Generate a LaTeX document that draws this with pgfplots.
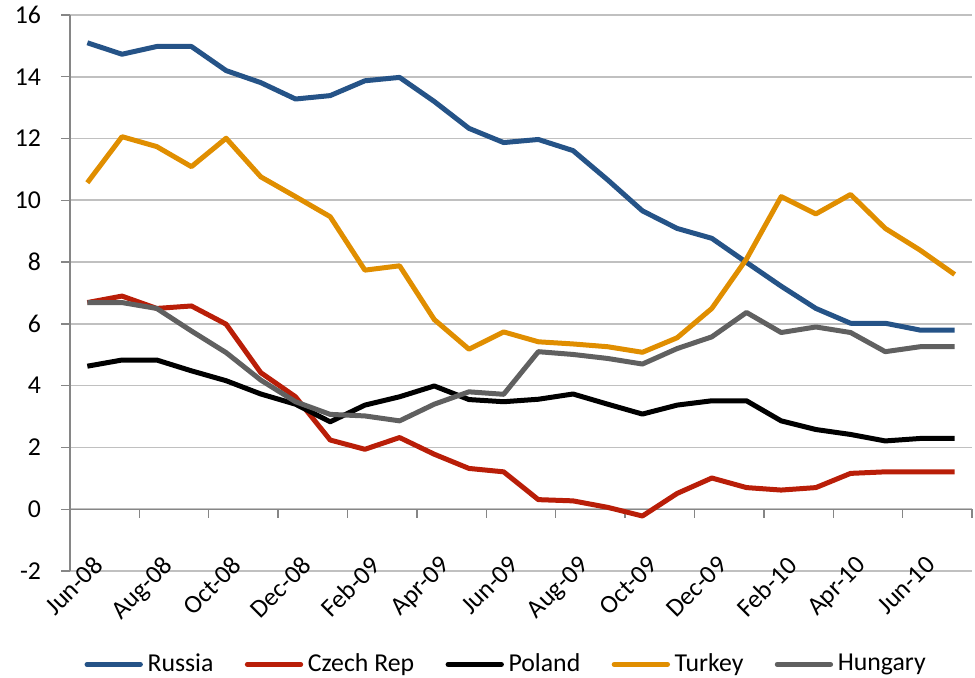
\documentclass[border=0pt]{standalone}
\usepackage{pgfplots}
\pgfplotsset{compat=1.18}
\usepackage{pgfplotstable}
\usepackage{fontspec}
\setmainfont{Carlito}

\definecolor{russia}{RGB}{37,83,135}
\definecolor{czech}{RGB}{185,30,8}
\definecolor{turkey}{RGB}{224,142,0}
\definecolor{hungary}{RGB}{96,96,96}
\definecolor{gridc}{RGB}{192,192,192}
\definecolor{axisc}{RGB}{134,134,134}

% monthly, Jun-08 (0) .. Jul-10 (25)
\pgfplotstableread{
m  russia czech poland turkey hungary
0  15.10  6.69  4.63  10.57  6.69
1  14.73  6.90  4.83  12.06  6.69
2  14.98  6.50  4.83  11.74  6.50
3  14.98  6.58  4.48  11.09  5.77
4  14.20  5.99  4.16  12.01  5.07
5  13.81  4.42  3.73  10.76  4.18
6  13.28  3.64  3.40  10.12  3.48
7  13.39  2.24  2.83   9.47  3.07
8  13.87  1.94  3.37   7.74  3.02
9  13.98  2.32  3.64   7.88  2.86
10 13.20  1.78  3.99   6.14  3.40
11 12.33  1.32  3.55   5.18  3.80
12 11.87  1.21  3.48   5.74  3.72
13 11.97  0.31  3.56   5.42  5.10
14 11.61  0.27  3.73   5.35  5.01
15 10.66  0.06  3.40   5.26  4.88
16  9.66 -0.22  3.08   5.08  4.70
17  9.09  0.51  3.37   5.55  5.20
18  8.77  1.01  3.51   6.50  5.58
19  7.99  0.70  3.51   8.10  6.37
20  7.22  0.62  2.86  10.12  5.72
21  6.50  0.70  2.58   9.56  5.90
22  6.02  1.16  2.42  10.19  5.72
23  6.02  1.21  2.21   9.09  5.10
24  5.80  1.21  2.29   8.39  5.26
25  5.80  1.21  2.29   7.60  5.26
}\rates

\begin{document}
\begin{tikzpicture}
\begin{axis}[
scale only axis,
width=135.3mm,height=83.4mm,
xmin=-0.5,xmax=25.5,
ymin=-2,ymax=16,
axis x line=middle,
axis y line=left,
x axis line style={-,axisc,line width=0.2mm},
y axis line style={-,axisc,line width=0.2mm},
hide obscured x ticks=false,
hide obscured y ticks=false,
xtick={-0.5,1.5,...,25.5},
xticklabels={Jun-08,Aug-08,Oct-08,Dec-08,Feb-09,Apr-09,Jun-09,Aug-09,Oct-09,Dec-09,Feb-10,Apr-10,Jun-10,{}},
ytick={-2,0,...,16},
ymajorgrids,
grid style={gridc,line width=0.25mm},
tick style={axisc,line width=0.2mm},
major tick length=1.3mm,
tick align=outside,
ticklabel style={font=\fontsize{11}{13}\selectfont},
/pgf/number format/assume math mode=true,
yticklabel style={xshift=-1.8mm},
xticklabel style={xshift=3.3mm,yshift=-3.8mm,rotate=45,anchor=north east},
legend style={at={(0.485,-0.168)},anchor=center,draw=none,legend columns=5,
  font=\fontsize{11}{13}\selectfont,
  /tikz/every even column/.append style={column sep=4mm}},
legend image code/.code={\draw[#1,line width=0.75mm,line cap=round] (0mm,0mm) -- (8mm,0mm);},
every axis plot/.append style={line width=0.75mm,line join=round,mark=none},
]
\addplot[russia] table[x=m,y=russia] {\rates};
\addplot[czech] table[x=m,y=czech] {\rates};
\addplot[black] table[x=m,y=poland] {\rates};
\addplot[turkey] table[x=m,y=turkey] {\rates};
\addplot[hungary] table[x=m,y=hungary] {\rates};
\legend{Russia,Czech Rep,Poland,Turkey,Hungary}
\end{axis}
\pgfresetboundingbox
\path ([shift={(-10.5mm,-16.05mm)}]current axis.south west) rectangle ([shift={(135.75mm,85.65mm)}]current axis.south west);
\end{tikzpicture}
\end{document}
